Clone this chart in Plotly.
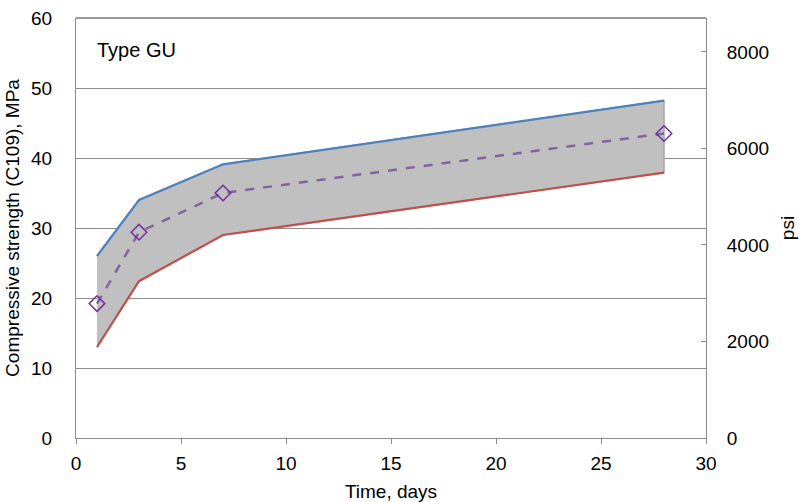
import plotly.graph_objects as go

# Compressive strength development of Type GU cement (C109)
days = [1, 3, 7, 28]
upper_mpa = [26.0, 34.0, 39.1, 48.2]
lower_mpa = [13.0, 22.4, 29.0, 37.9]
mean_mpa = [19.2, 29.4, 35.0, 43.5]

x_ticks = [0, 5, 10, 15, 20, 25, 30]
mpa_ticks = [0, 10, 20, 30, 40, 50, 60]
psi_ticks = [0, 2000, 4000, 6000, 8000]
MPA_TO_PSI = 145.038

FONT = "Liberation Sans, Arial, sans-serif"
GRID = "#8c8c8c"

fig = go.Figure()

# shaded band between the upper and lower limits
fig.add_trace(go.Scatter(
    x=days + days[::-1],
    y=upper_mpa + lower_mpa[::-1],
    fill="toself",
    fillcolor="#c0c0c0",
    line=dict(color="#a6a6a6", width=1.5),
    mode="lines",
    hoverinfo="skip",
    showlegend=False,
))

fig.add_trace(go.Scatter(
    x=days, y=upper_mpa, mode="lines",
    line=dict(color="#4f81bd", width=2.2),
    showlegend=False,
))
fig.add_trace(go.Scatter(
    x=days, y=lower_mpa, mode="lines",
    line=dict(color="#c0504d", width=2.2),
    showlegend=False,
))
fig.add_trace(go.Scatter(
    x=days, y=mean_mpa, mode="lines+markers",
    line=dict(color="#8064a2", width=2.5, dash="dash"),
    marker=dict(symbol="diamond-open", size=12, color="#7030a0",
                line=dict(width=1.5, color="#7030a0")),
    showlegend=False,
))

# invisible trace to activate the psi axis
fig.add_trace(go.Scatter(
    x=[days[0]], y=[mean_mpa[0] * MPA_TO_PSI], yaxis="y2",
    mode="markers", marker=dict(opacity=0), hoverinfo="skip",
    showlegend=False,
))

fig.update_layout(
    width=802, height=502,
    margin=dict(l=76, r=96, t=18, b=64),
    paper_bgcolor="white", plot_bgcolor="white",
    font=dict(family=FONT, size=19, color="black"),
    xaxis=dict(
        range=[0, 30], tickvals=x_ticks, automargin=False,
        showgrid=False, zeroline=False,
        showline=True, linecolor=GRID, linewidth=1,
        ticks="outside", ticklen=5, tickcolor=GRID,
        ticklabelstandoff=3,
        title=dict(text="Time, days", standoff=12, font=dict(size=19)),
    ),
    yaxis=dict(
        range=[0, 60], tickvals=mpa_ticks, automargin=False,
        showgrid=True, gridcolor=GRID, gridwidth=1,
        zeroline=False,
        showline=True, linecolor=GRID, linewidth=1,
        ticks="", ticklabelstandoff=19,
        title=dict(text="Compressive strength (C109), MPa", standoff=6,
                   font=dict(size=19)),
    ),
    yaxis2=dict(
        overlaying="y", side="right", automargin=False,
        range=[0, 60 * MPA_TO_PSI], tickvals=psi_ticks,
        showgrid=False, zeroline=False,
        showline=True, linecolor=GRID, linewidth=1,
        ticks="inside", ticklen=5, tickcolor=GRID,
        ticklabelstandoff=16,
        title=dict(text="psi", standoff=12, font=dict(size=19)),
    ),
    shapes=[dict(type="line", xref="paper", yref="paper",
                 x0=0, x1=1, y0=1, y1=1,
                 line=dict(color="#333333", width=1.2))],
    annotations=[dict(
        text="Type GU", xref="paper", yref="paper",
        x=0.03, y=0.955, xanchor="left", yanchor="top",
        showarrow=False, font=dict(size=20),
    )],
)

fig.write_html("out.html")
